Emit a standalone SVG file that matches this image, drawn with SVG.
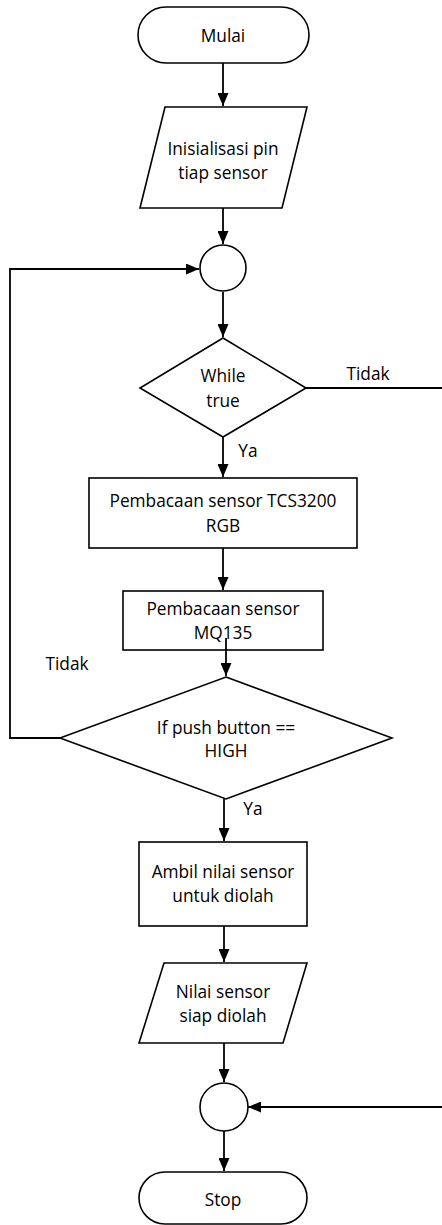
<svg xmlns="http://www.w3.org/2000/svg" width="442" height="1225" viewBox="0 0 442 1225">
<style>
.s{fill:#fff;stroke:#000;stroke-width:1.6}
.c{fill:none;stroke:#000;stroke-width:1.8}
text{font-family:"Open Sans","Liberation Sans",sans-serif;font-size:17.3px;fill:#000;text-anchor:middle;dominant-baseline:central}
</style>
<defs>
<marker id="a" viewBox="0 0 10 10" refX="10" refY="5" markerWidth="13" markerHeight="11" markerUnits="userSpaceOnUse" orient="auto" preserveAspectRatio="none">
<path d="M0,0 L10,5 L0,10 Z" fill="#000"/>
</marker>
</defs>
<rect width="442" height="1225" fill="#fff"/>
<g id="mulai">
<rect class="s" x="138" y="7" width="171" height="56" rx="28"/>
<text x="223" y="35">Mulai</text>
</g>
<g id="inisialisasi">
<polygon class="s" points="165,107 307,107 282,208 140,208"/>
<text x="223" y="148">Inisialisasi pin</text>
<text x="223" y="172">tiap sensor</text>
</g>
<g id="konektor1">
<circle class="s" cx="223" cy="268" r="23"/>
</g>
<g id="while">
<polygon class="s" points="223,338 306,388 223,437 140,388"/>
<text x="223" y="375">While</text>
<text x="223" y="400">true</text>
</g>
<g id="tcs3200">
<rect class="s" x="89" y="478" width="268" height="70"/>
<text x="223" y="500">Pembacaan sensor TCS3200</text>
<text x="223" y="525">RGB</text>
</g>
<g id="mq135">
<rect class="s" x="123" y="591" width="200" height="59"/>
<text x="223" y="608">Pembacaan sensor</text>
<text x="223" y="632">MQ135</text>
</g>
<g id="ifbutton">
<polygon class="s" points="226,677 392,738 226,799 60,738"/>
<text x="226" y="727">If push button ==</text>
<text x="226" y="750">HIGH</text>
</g>
<g id="ambil">
<rect class="s" x="139" y="842" width="168" height="84"/>
<text x="223" y="871">Ambil nilai sensor</text>
<text x="223" y="895">untuk diolah</text>
</g>
<g id="nilai">
<polygon class="s" points="164,963 307,963 283,1043 139,1043"/>
<text x="223" y="991">Nilai sensor</text>
<text x="223" y="1015">siap diolah</text>
</g>
<g id="konektor2">
<circle class="s" cx="224" cy="1107" r="24"/>
</g>
<g id="stop">
<rect class="s" x="139" y="1172" width="168" height="52" rx="26"/>
<text x="223" y="1199">Stop</text>
</g>
<g id="connectors">
<path class="c" d="M223,63 V106" marker-end="url(#a)"/>
<path class="c" d="M223,208 V244" marker-end="url(#a)"/>
<path class="c" d="M223,292 V337" marker-end="url(#a)"/>
<path class="c" d="M306,388 H442"/>
<path class="c" d="M223,437 V477" marker-end="url(#a)"/>
<path class="c" d="M223,548 V590" marker-end="url(#a)"/>
<path class="c" d="M226,638 V676" marker-end="url(#a)"/>
<path class="c" d="M60,738 H10 V269 H199" marker-end="url(#a)"/>
<path class="c" d="M224,799 V841" marker-end="url(#a)"/>
<path class="c" d="M224,926 V962" marker-end="url(#a)"/>
<path class="c" d="M224,1043 V1082" marker-end="url(#a)"/>
<path class="c" d="M442,1107 H248" marker-end="url(#a)"/>
<path class="c" d="M224,1131 V1171" marker-end="url(#a)"/>
<text x="368" y="373">Tidak</text>
<text x="248" y="450">Ya</text>
<text x="67" y="663">Tidak</text>
<text x="253" y="808">Ya</text>
</g>
</svg>
